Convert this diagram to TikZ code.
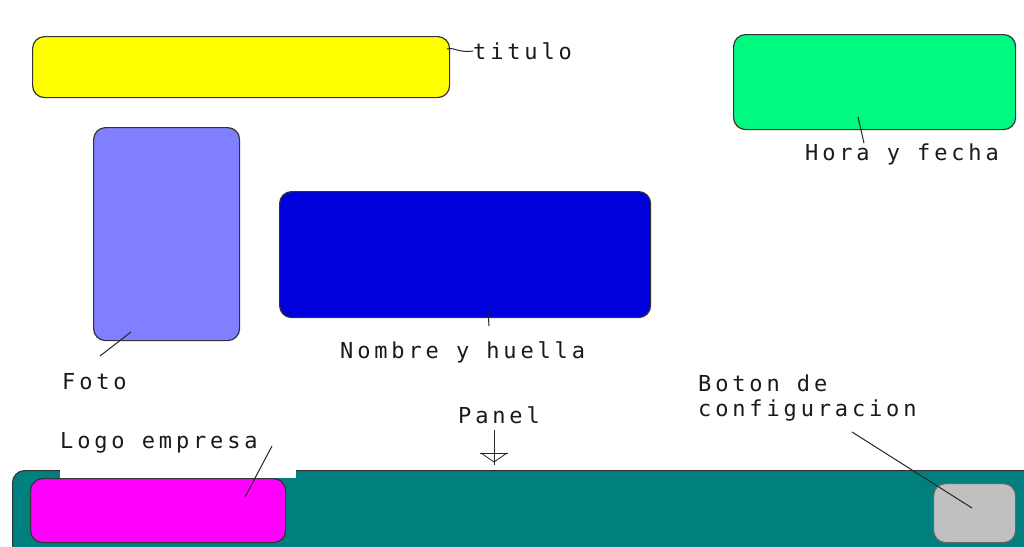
\documentclass[tikz,border=0pt]{standalone}
\usepackage{fontspec}
\newfontfamily\lblfont[LetterSpace=17.5]{DejaVu Sans Mono}
\definecolor{ttlyellow}{HTML}{FFFF00}
\definecolor{clockgreen}{HTML}{00FA80}
\definecolor{photoblue}{HTML}{7F7FFF}
\definecolor{namblue}{HTML}{0000DD}
\definecolor{panelteal}{HTML}{007F7F}
\definecolor{logomag}{HTML}{FF00FF}
\definecolor{btngray}{HTML}{C0C0C0}
\definecolor{inkgray}{HTML}{1A1A1A}
\tikzset{
  box/.style={draw=black!80, line width=1.2pt, rounded corners=12pt, anchor=north west, inner sep=0pt},
  lbl/.style={font=\lblfont\fontsize{22}{25}\selectfont, text=inkgray, inner sep=0pt, anchor=west},
  lead/.style={draw=black!85, line width=1pt}
}
\begin{document}
\begin{tikzpicture}[x=1pt,y=-1pt]
\useasboundingbox (0,0) rectangle (1024,546);
\clip (0,0) rectangle (1024,546);
\fill[white] (0,0) rectangle (1024,546);

% upper screen elements
\node[box, fill=ttlyellow, minimum width=417pt, minimum height=61pt] (titlebox) at (32,36) {};
\node[box, fill=clockgreen, minimum width=282pt, minimum height=95pt] (clockbox) at (733,34) {};
\node[box, fill=photoblue, minimum width=146pt, minimum height=213pt] (photobox) at (93,127) {};
\node[box, fill=namblue, minimum width=371pt, minimum height=126pt] (namebox) at (279,191) {};

% bottom panel with its contents
\node[box, fill=panelteal, minimum width=1040pt, minimum height=100pt] (panel) at (12,470) {};
\fill[white] (60,420) rectangle (296,478);
\node[box, fill=logomag, minimum width=255pt, minimum height=64pt] (logobox) at (30,478) {};
\node[box, fill=btngray, minimum width=82pt, minimum height=59pt, draw=black!60] (cfgbtn) at (933,483) {};

% labels
\node[lbl] (titlelbl) at (473,51) {titulo};
\node[lbl] (clocklbl) at (805,154) {Hora y fecha};
\node[lbl] (photolbl) at (62,382) {Foto};
\node[lbl] (namelbl) at (340,352) {Nombre y huella};
\node[lbl] (logolbl) at (60,443) {Logo empresa};
\node[lbl] (panellbl) at (458,415) {Panel};
\node[lbl, align=left, anchor=north west] (cfglbl) at (698,375) {Boton de\\configuracion};

% leader lines
\coordinate (t1) at (447,49);
\draw[lead] (t1) .. controls (455,47) and (458,53) .. (titlelbl.west);
\coordinate (c1) at (858,117);
\draw[lead] (c1) -- (clocklbl.north -| 864,0) ;
\coordinate (p1) at (131,332);
\coordinate (p2) at (100,356);
\draw[lead] (p1) -- (p2);
\coordinate (n1) at (488,311);
\coordinate (n2) at (489,326);
\draw[lead] (n1) -- (n2);
\coordinate (l1) at (272,446);
\coordinate (l2) at (245,497);
\draw[lead] (l1) -- (l2);
\coordinate (b1) at (852,432);
\coordinate (b2) at (972,508);
\draw[lead] (b1) -- (b2);

% pointer from the panel label down to the panel
\coordinate (pa) at (494,430);
\coordinate (pb) at (494,465);
\draw[lead] (pa) -- (pb);
\draw[lead] (480,453) -- (508,453);
\draw[lead, line width=0.8pt] (481,453) -- (494,462) -- (507,453);
\end{tikzpicture}
\end{document}
